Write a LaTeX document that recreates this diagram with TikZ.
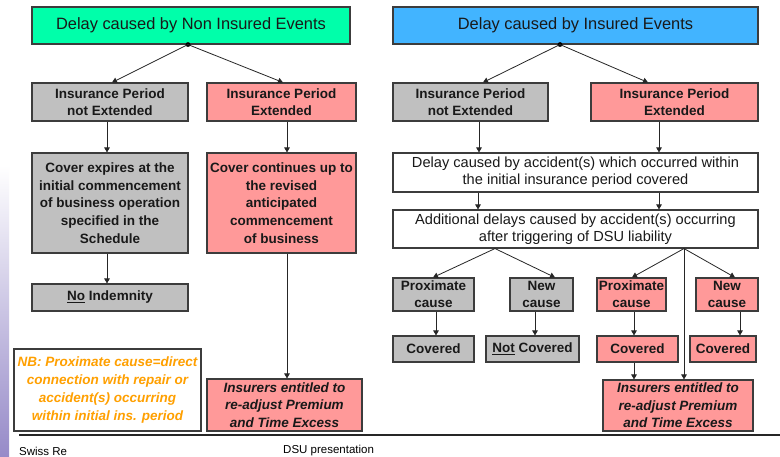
\documentclass[tikz,border=0pt]{standalone}
\usepackage{fontspec}
\setmainfont{Liberation Sans}
\usetikzlibrary{arrows.meta}
\definecolor{mint}{RGB}{0,255,170}
\definecolor{sky}{RGB}{66,180,255}
\definecolor{gbox}{RGB}{192,192,192}
\definecolor{rbox}{RGB}{255,153,153}
\definecolor{nbor}{RGB}{255,160,0}
\definecolor{edgec}{RGB}{60,60,60}
\definecolor{lav}{RGB}{150,138,200}
\tikzset{
  box/.style={draw=edgec, line width=1.1pt, inner sep=0pt, align=center,
    text=black!90, font=\bfseries\fontsize{13.5}{17}\selectfont},
  greybox/.style={box, fill=gbox},
  redbox/.style={box, fill=rbox},
  whitebox/.style={box, fill=white, font=\fontsize{14.6}{17.3}\selectfont},
  titlebox/.style={box, font=\fontsize{16.4}{19}\selectfont},
  arr/.style={-{Triangle[width=5.5pt,length=5pt]}, line width=0.8pt, draw=black!85},
  foot/.style={anchor=west, inner sep=0pt, font=\fontsize{11.5}{13}\selectfont}
}
\begin{document}
\begin{tikzpicture}[x=1pt,y=-1pt]
\useasboundingbox[fill=white] (0,0) rectangle (780,457);
\shade[top color=white, bottom color=lav] (0,165) rectangle (9,457);

% titles
\node[titlebox, fill=mint, minimum width=318pt, minimum height=37pt] (g1) at (191,25.5) {Delay caused by Non Insured Events};
\node[titlebox, fill=sky, minimum width=365pt, minimum height=37pt] (b1) at (575.5,25.5) {Delay caused by Insured Events};

% left side
\node[greybox, minimum width=156pt, minimum height=38pt] (Lne) at (110,102) {Insurance Period\\not Extended};
\node[redbox, minimum width=149pt, minimum height=38pt] (Le) at (281.5,102) {Insurance Period\\Extended};
\node[greybox, minimum width=156pt, minimum height=100pt, font=\bfseries\fontsize{13.5}{17.6}\selectfont] (Lcov) at (110,203) {Cover expires at the\\initial commencement\\of business operation\\specified in the\\Schedule};
\node[redbox, minimum width=149pt, minimum height=100pt, font=\bfseries\fontsize{13.5}{17.6}\selectfont] (Lcont) at (281.5,203) {Cover continues up to\\the revised\\anticipated\\commencement\\of business};
\node[greybox, minimum width=156pt, minimum height=27pt] (Lno) at (110,297.5) {\underline{No} Indemnity};
\node[box, fill=white, text=nbor, minimum width=187pt, minimum height=82pt, font=\bfseries\itshape\fontsize{13.5}{18}\selectfont] (NB) at (107.5,390) {NB: Proximate cause=direct\\connection with repair or\\accident(s) occurring\\within initial ins. period};
\node[redbox, minimum width=155pt, minimum height=52pt, font=\bfseries\itshape\fontsize{13.5}{17.5}\selectfont] (Lins) at (284.5,405) {Insurers entitled to\\re-adjust Premium\\and Time Excess};

% right side
\node[greybox, minimum width=155pt, minimum height=38pt] (Rne) at (470.5,102) {Insurance Period\\not Extended};
\node[redbox, minimum width=167pt, minimum height=38pt] (Re) at (674.5,102) {Insurance Period\\Extended};
\node[whitebox, minimum width=365pt, minimum height=39pt] (Racc) at (575.5,172.5) {Delay caused by accident(s) which occurred within\\the initial insurance period covered};
\node[whitebox, minimum width=365pt, minimum height=38pt] (Radd) at (575.5,229) {Additional delays caused by accident(s) occurring\\after triggering of DSU liability};
\node[greybox, minimum width=81pt, minimum height=33pt] (pc1) at (433.5,294.5) {Proximate\\cause};
\node[greybox, minimum width=63pt, minimum height=33pt] (nc1) at (541.5,294.5) {New\\cause};
\node[redbox, minimum width=69pt, minimum height=33pt] (pc2) at (631.5,294.5) {Proximate\\cause};
\node[redbox, minimum width=62pt, minimum height=33pt] (nc2) at (727,294.5) {New\\cause};
\node[greybox, minimum width=81pt, minimum height=26pt] (cv1) at (433.5,349) {Covered};
\node[greybox, minimum width=93pt, minimum height=26pt] (ncv) at (532.5,349) {\underline{Not} Covered};
\node[redbox, minimum width=81pt, minimum height=26pt] (cv2) at (637.5,349) {Covered};
\node[redbox, minimum width=66pt, minimum height=26pt] (cv3) at (723,349) {Covered};
\node[redbox, minimum width=150pt, minimum height=51pt, font=\bfseries\itshape\fontsize{13.5}{17.5}\selectfont] (Rins) at (678,405.5) {Insurers entitled to\\re-adjust Premium\\and Time Excess};

% branch points
\coordinate (dL) at ([xshift=-3pt]g1.south);
\coordinate (dR) at ([xshift=-15.5pt]b1.south);
\coordinate (bL) at ([xshift=-80.5pt]Radd.south);
\coordinate (bR) at ([xshift=108.5pt]Radd.south);
\fill[black] (dL) circle (2.4pt);
\fill[black] (dR) circle (2.4pt);

% left connectors
\draw[arr] (dL) -- ([xshift=2pt]Lne.north);
\draw[arr] (dL) -- ([xshift=1.5pt]Le.north);
\draw[arr] ([xshift=-3pt]Lne.south) -- ([xshift=-3pt]Lcov.north);
\draw[arr] ([xshift=5.5pt]Le.south) -- ([xshift=5.5pt]Lcont.north);
\draw[arr] ([xshift=-3pt]Lcov.south) -- ([xshift=-3pt]Lno.north);
\draw[arr] ([xshift=5.5pt]Lcont.south) -- ([xshift=2.5pt]Lins.north);

% right connectors
\draw[arr] (dR) -- ([xshift=12.5pt]Rne.north);
\draw[arr] (dR) -- ([xshift=-26.5pt]Re.north);
\draw[arr] ([xshift=8.5pt]Rne.south) -- ([xshift=-96.5pt]Racc.north);
\draw[arr] ([xshift=-15.5pt]Re.south) -- ([xshift=83.5pt]Racc.north);
\draw[arr] ([xshift=-97.5pt]Racc.south) -- ([xshift=-97.5pt]Radd.north);
\draw[arr] ([xshift=83.5pt]Racc.south) -- ([xshift=83.5pt]Radd.north);
\draw[arr] (bL) -- ([xshift=-0.5pt]pc1.north);
\draw[arr] (bL) -- ([xshift=13.5pt]nc1.north);
\draw[arr] (bR) -- ([xshift=0.5pt]pc2.north);
\draw[arr] (bR) -- ([xshift=8pt]nc2.north);
\draw[arr] (bR) -- ([xshift=6pt]Rins.north);
\draw[arr] ([xshift=2.5pt]pc1.south) -- ([xshift=2.5pt]cv1.north);
\draw[arr] ([xshift=-6.5pt]nc1.south) -- ([xshift=2.5pt]ncv.north);
\draw[arr] ([xshift=2.5pt]pc2.south) -- ([xshift=-3.5pt]cv2.north);
\draw[arr] ([xshift=13pt]nc2.south) -- ([xshift=17pt]cv3.north);
\draw[arr] ([xshift=-3.5pt]cv2.south) -- ([xshift=-44pt]Rins.north);

% footer
\draw[line width=2pt, black!85] (19,435) -- (780,435);
\node[foot] (sr) at (19,451) {Swiss Re};
\node[foot] (dsu) at (283,451) {DSU presentation};
\end{tikzpicture}
\end{document}
